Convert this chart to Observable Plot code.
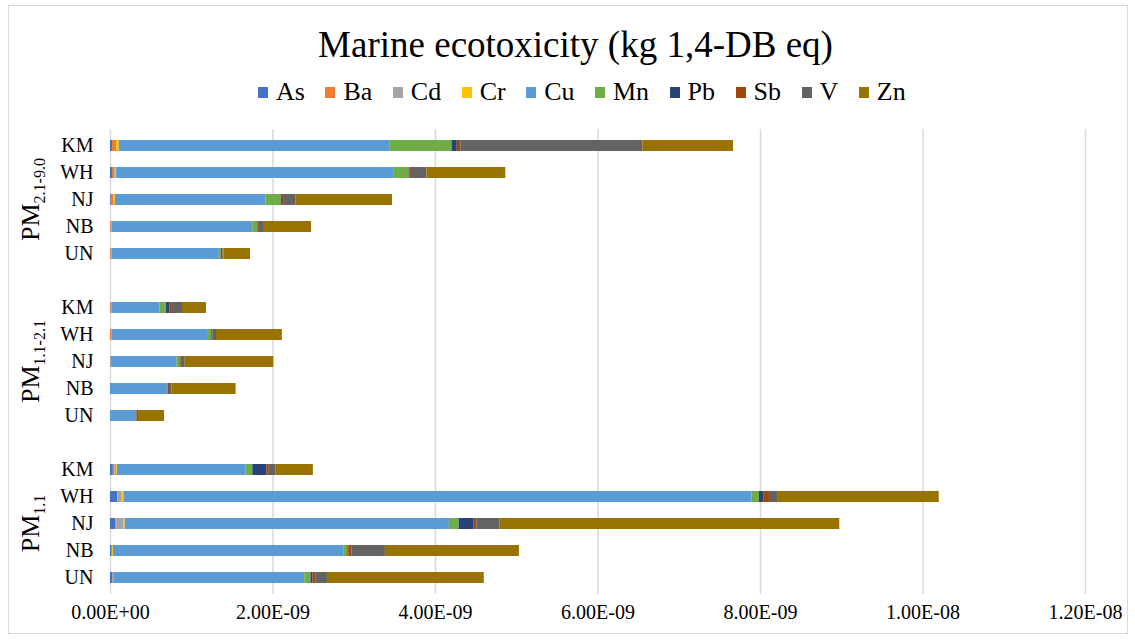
<!DOCTYPE html>
<html>
<head>
<meta charset="utf-8">
<script src="https://cdn.jsdelivr.net/npm/d3@7"></script>
<script src="https://cdn.jsdelivr.net/npm/@observablehq/plot@0.6"></script>
<style>
  body { margin: 0; background: #fff; font-family: "Liberation Serif", "Times New Roman", serif; }
  #frame { position: relative; width: 1135px; height: 642px; overflow: hidden; }
  #border { position: absolute; left: 8px; top: 5px; width: 1120px; height: 629px; border: 1px solid #d9d9d9; box-sizing: border-box; }
  #title { position: absolute; top: 26px; left: 16px; width: 1119px; text-align: center; font-size: 37px; color: #000; line-height: 1; }
  #legend { position: absolute; top: 79px; left: 258px; display: flex; gap: 20.5px; font-size: 26px; color: #000; line-height: 1; }
  .item { display: flex; align-items: center; }
  .sw { width: 10px; height: 11px; margin-right: 8px; }
  #chart { position: absolute; top: 120px; left: 0; }
</style>
</head>
<body>
<div id="frame">
  <div id="border"></div>
  <div id="title">Marine ecotoxicity (kg 1,4-DB eq)</div>
  <div id="legend"></div>
  <div id="chart"></div>
</div>
<script>
// Heavy-metal contributions, in units of 1E-09 kg 1,4-DB eq
const elements = ["As", "Ba", "Cd", "Cr", "Cu", "Mn", "Pb", "Sb", "V", "Zn"];
const colors = ["#4472C4", "#ED7D31", "#A5A5A5", "#FFC000", "#5B9BD5", "#70AD47", "#264478", "#9E480E", "#636363", "#997300"];
const sites = ["KM", "WH", "NJ", "NB", "UN"];
const fractions = ["PM2.1-9.0", "PM1.1-2.1", "PM1.1"];
const fractionSubs = ["2.1-9.0", "1.1-2.1", "1.1"];
const xTicks = [0, 2e-9, 4e-9, 6e-9, 8e-9, 1e-8, 1.2e-8];

// rows: KM, WH, NJ, NB, UN; columns follow `elements`
const coarse = [
  [0.025, 0.05, 0, 0.033, 3.335, 0.76, 0.065, 0.045, 2.24, 1.115],
  [0.025, 0.025, 0.01, 0.015, 3.41, 0.19, 0.01, 0.02, 0.19, 0.97],
  [0.01, 0.03, 0, 0.02, 1.855, 0.185, 0.005, 0.025, 0.155, 1.186],
  [0.005, 0.015, 0, 0, 1.73, 0.057, 0.005, 0.02, 0.062, 0.58],
  [0.005, 0.015, 0, 0, 1.32, 0.025, 0, 0.02, 0.013, 0.325]
];
const intermediate = [
  [0.005, 0.016, 0, 0, 0.59, 0.079, 0.044, 0.017, 0.135, 0.295],
  [0, 0.02, 0, 0, 1.185, 0.04, 0, 0.015, 0.045, 0.81],
  [0, 0, 0.01, 0, 0.81, 0.033, 0, 0.017, 0.05, 1.09],
  [0, 0, 0, 0, 0.71, 0, 0, 0.016, 0.03, 0.79],
  [0, 0, 0, 0, 0.325, 0, 0, 0.02, 0, 0.32]
];
const fine = [
  [0.035, 0.02, 0.02, 0.01, 1.58, 0.086, 0.176, 0.028, 0.079, 0.463],
  [0.09, 0, 0.053, 0.025, 7.725, 0.094, 0.058, 0.065, 0.10, 1.99],
  [0.065, 0.01, 0.09, 0.016, 3.99, 0.12, 0.185, 0.033, 0.287, 4.18],
  [0.012, 0.012, 0, 0.012, 2.835, 0.05, 0.012, 0.04, 0.41, 1.65],
  [0.025, 0, 0.015, 0, 2.35, 0.078, 0.025, 0.033, 0.144, 1.93]
];
const tables = [coarse, intermediate, fine];

// Band domain: five sites per fraction, with an empty slot between fractions
const rowKey = (f, s) => f + "|" + s;
const domain = [];
fractions.forEach((f, i) => {
  if (i > 0) domain.push("gap" + i);
  sites.forEach(s => domain.push(rowKey(f, s)));
});
const siteKeys = domain.filter(d => !d.startsWith("gap"));

const data = [];
fractions.forEach((f, fi) => {
  sites.forEach((s, si) => {
    elements.forEach((e, ei) => {
      data.push({key: rowKey(f, s), element: e, value: tables[fi][si][ei] * 1e-9});
    });
  });
});

function sci(v) {
  if (v === 0) return "0.00E+00";
  const e = Math.floor(Math.log10(Math.abs(v)) + 1e-9);
  const m = v / Math.pow(10, e);
  return m.toFixed(2) + "E" + (e < 0 ? "-" : "+") + String(Math.abs(e)).padStart(2, "0");
}

// Legend
const legend = d3.select("#legend");
elements.forEach((e, i) => {
  const it = legend.append("div").attr("class", "item");
  it.append("div").attr("class", "sw").style("background", colors[i]);
  it.append("span").text(e);
});

const chart = Plot.plot({
  width: 1135,
  height: 510,
  marginLeft: 110,
  marginRight: 50,
  marginTop: 9,
  marginBottom: 36,
  style: {fontFamily: "'Liberation Serif', 'Times New Roman', serif", background: "transparent", color: "#000"},
  x: {domain: [0, 1.2e-8]},
  y: {type: "band", domain, paddingInner: 0.6, paddingOuter: 0.3},
  color: {domain: elements, range: colors},
  marks: [
    Plot.gridX(xTicks, {stroke: "#d9d9d9", strokeOpacity: 1, strokeWidth: 1.5}),
    Plot.barX(data, Plot.stackX({y: "key", x: "value", fill: "element", order: elements})),
    Plot.axisX({ticks: xTicks, tickFormat: sci, tickSize: 0, tickPadding: 10, fontSize: 20, label: null}),
    Plot.axisY({ticks: siteKeys, tickFormat: d => d.split("|")[1], tickSize: 0, tickPadding: 17, fontSize: 20, label: null})
  ]
});

// Rotated fraction labels with subscripts, centred on each group of bars
const y = chart.scale("y");
const svg = d3.select(chart);
fractions.forEach((f, i) => {
  const k1 = y.apply(rowKey(f, sites[0]));
  const k2 = y.apply(rowKey(f, sites[sites.length - 1]));
  const cy = (k1 + k2) / 2 + y.bandwidth / 2;
  const t = svg.append("text")
    .attr("transform", `translate(39,${cy}) rotate(-90)`)
    .attr("text-anchor", "middle")
    .style("font-family", "'Liberation Serif', 'Times New Roman', serif")
    .style("font-size", "26px")
    .attr("fill", "#000");
  t.append("tspan").text("PM");
  t.append("tspan").attr("dy", 6).style("font-size", "16px").text(fractionSubs[i]);
});

document.getElementById("chart").appendChild(chart);
</script>
</body>
</html>
